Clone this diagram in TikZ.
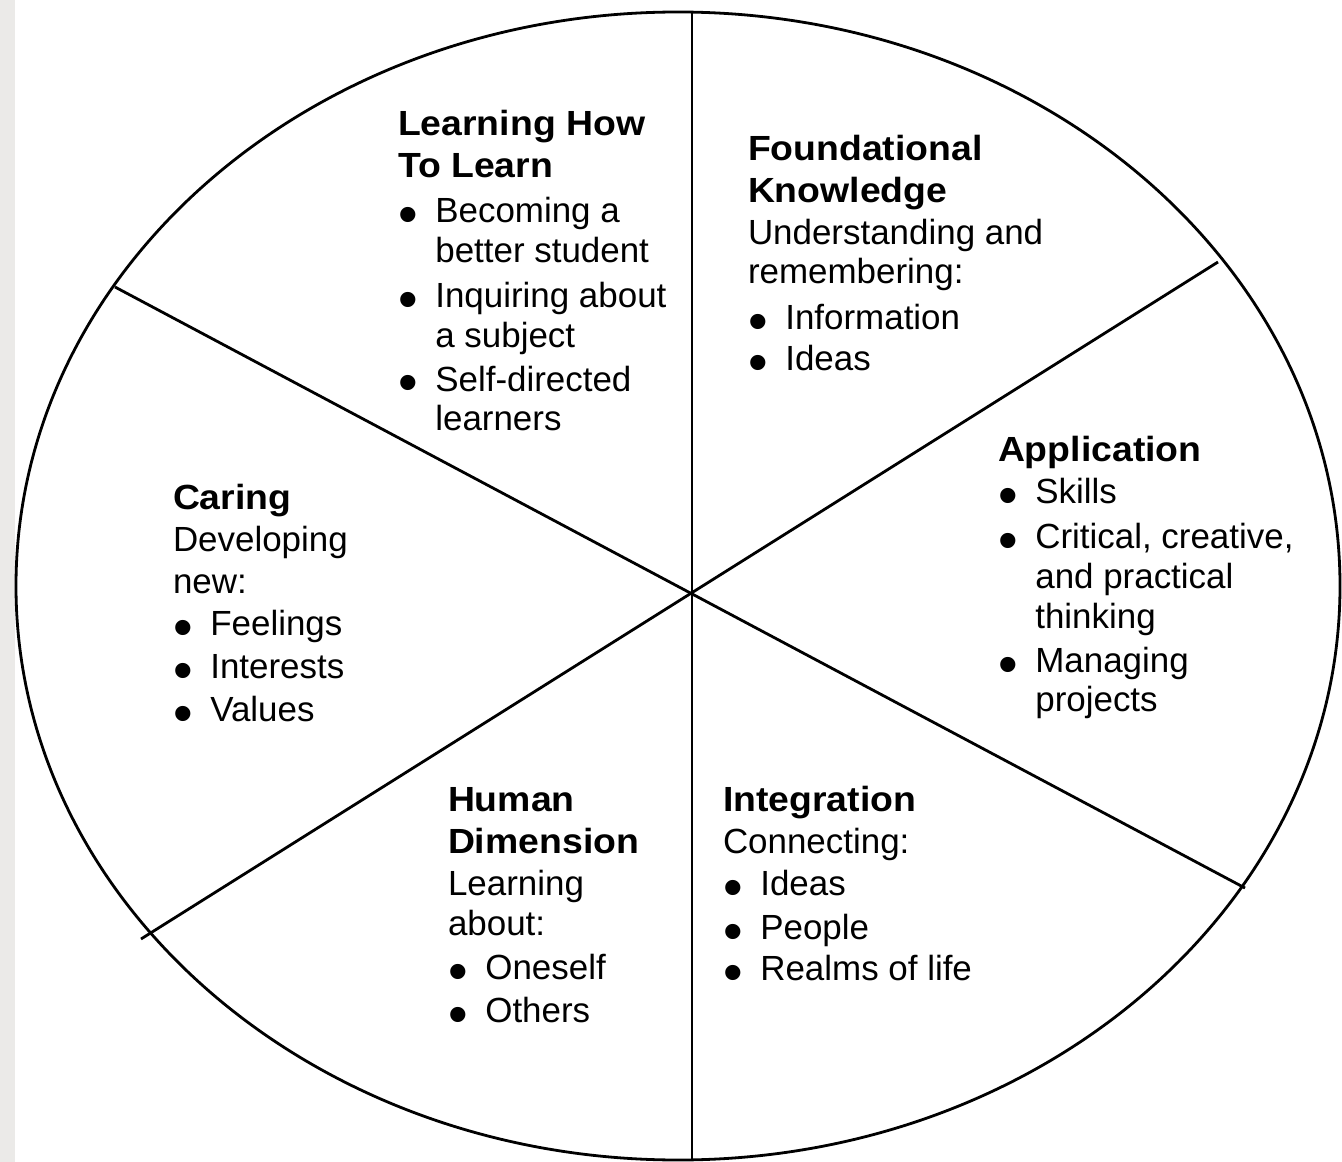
\documentclass[tikz,border=0pt]{standalone}
\usepackage{fontspec}
\setmainfont{Liberation Sans}
\usepackage{graphicx}
\definecolor{stripgray}{HTML}{EBEAE8}
\newlength\mybind \setlength\mybind{28pt}
\newcommand\mybul{\makebox[\mybind][l]{\raisebox{-8.2pt}{\scalebox{1.6}{\textbullet}}}}
\newcommand\mycont{\hspace*{\mybind}}
\newcommand\mytitle[1]{\scalebox{1.07}[1]{\textbf{#1}}}
\tikzset{
  seg/.style={line width=2.1pt, black},
  blk/.style={anchor=base west, inner sep=0pt, outer sep=0pt,
    font=\fontsize{26.2}{29.7}\selectfont, text=black}
}
\begin{document}
\begin{tikzpicture}[x=0.75pt,y=-0.75pt]
\useasboundingbox (0,0) rectangle (1342,1162);
\fill[stripgray] (0,0) rectangle (15,1162);
% ellipse and dividing lines
\coordinate (ec) at (678,586);
\draw[seg] (ec) ellipse [x radius=496.5pt, y radius=430.5pt];
\coordinate (t) at (692,12);
\coordinate (b) at (692,1160);
\coordinate (ul) at (115,287);
\coordinate (lr) at (1245,888);
\coordinate (ur) at (1218,262);
\coordinate (ll) at (141,939);
\draw[seg] (t) -- (b);
\draw[seg] (ul) -- (lr);
\draw[seg] (ur) -- (ll);
% texts
\node[blk] (learn) at (398,136) {\begin{tabular}[t]{@{}l@{}}
\mytitle{Learning How}\\[1.8pt]
\mytitle{To Learn}\\[4pt]
\mybul Becoming a\\
\mycont better student\\[4pt]
\mybul Inquiring about\\
\mycont a subject\\[3.3pt]
\mybul Self-directed\\
\mycont learners
\end{tabular}};
\node[blk] (found) at (748,161) {\begin{tabular}[t]{@{}l@{}}
\mytitle{Foundational}\\[1.8pt]
\mytitle{Knowledge}\\[1.2pt]
Understanding and\\
remembering:\\[4.5pt]
\mybul Information\\[1.2pt]
\mybul Ideas
\end{tabular}};
\node[blk] (appl) at (998,461) {\begin{tabular}[t]{@{}l@{}}
\mytitle{Application}\\[2.5pt]
\mybul Skills\\[4pt]
\mybul Critical, creative,\\
\mycont and practical\\
\mycont thinking\\[3.3pt]
\mybul Managing\\
\mycont projects
\end{tabular}};
\node[blk] (caring) at (173,509) {\begin{tabular}[t]{@{}l@{}}
\mytitle{Caring}\\[2.5pt]
Developing\\[1.8pt]
new:\\[1.8pt]
\mybul Feelings\\[2.5pt]
\mybul Interests\\[2.5pt]
\mybul Values
\end{tabular}};
\node[blk] (human) at (448,811) {\begin{tabular}[t]{@{}l@{}}
\mytitle{Human}\\[2.5pt]
\mytitle{Dimension}\\[1.8pt]
Learning\\
about:\\[3.3pt]
\mybul Oneself\\[2.5pt]
\mybul Others
\end{tabular}};
\node[blk] (integ) at (723,811) {\begin{tabular}[t]{@{}l@{}}
\mytitle{Integration}\\[1.8pt]
Connecting:\\[2.5pt]
\mybul Ideas\\[3.3pt]
\mybul People\\[1pt]
\mybul Realms of life
\end{tabular}};
\end{tikzpicture}
\end{document}
